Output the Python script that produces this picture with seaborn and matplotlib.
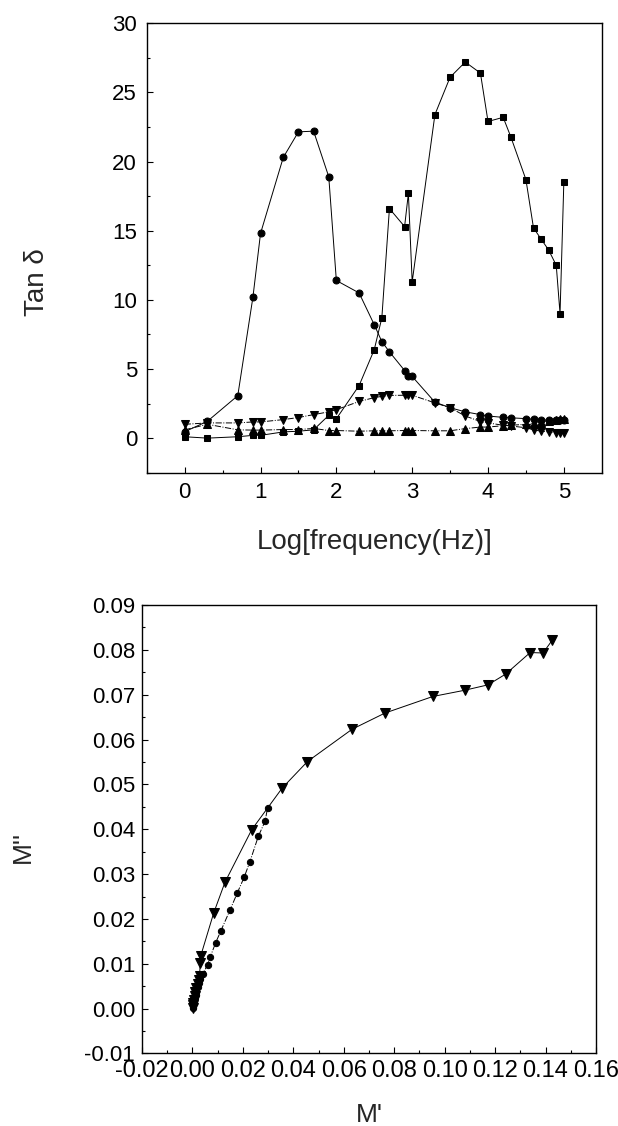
import matplotlib
matplotlib.use('Agg')
import matplotlib.pyplot as plt
from matplotlib.ticker import MultipleLocator, FormatStrFormatter
import seaborn as sns

sns.set_style('ticks')
plt.rcParams['font.family'] = ['Liberation Sans', 'DejaVu Sans']
plt.rcParams['axes.unicode_minus'] = False

# tan delta vs log frequency
log_f = [0, 0.3, 0.7, 0.9, 1.0, 1.3, 1.5, 1.7, 1.9, 2.0, 2.3, 2.5, 2.6, 2.7, 2.9, 2.95,
         3.0, 3.3, 3.5, 3.7, 3.9, 4.0, 4.2, 4.3, 4.5, 4.6, 4.7, 4.8, 4.9, 4.95, 5.0]
tan_square = [0.1, 0.0, 0.1, 0.2, 0.2, 0.45, 0.5, 0.6, 1.65, 1.4, 3.8, 6.4, 8.7, 16.6, 15.3, 17.7,
              11.3, 23.4, 26.1, 27.2, 26.4, 22.9, 23.2, 21.8, 18.7, 15.2, 14.4, 13.6, 12.5, 9.0, 18.5]
tan_circle = [0.46, 1.22, 3.07, 10.2, 14.8, 20.3, 22.15, 22.2, 18.9, 11.4, 10.5, 8.2, 6.98, 6.24, 4.89, 4.46,
              4.46, 2.6, 2.2, 1.9, 1.7, 1.6, 1.5, 1.47, 1.41, 1.36, 1.33, 1.3, 1.3, 1.3, 1.3]
tan_down = [1.0, 1.1, 1.1, 1.17, 1.17, 1.34, 1.49, 1.7, 1.9, 2.06, 2.65, 2.93, 3.02, 3.09, 3.1, 3.15,
            3.1, 2.55, 2.2, 1.6, 1.2, 1.1, 0.93, 0.88, 0.75, 0.6, 0.5, 0.45, 0.4, 0.38, 0.38]
tan_up = [0.6, 1.0, 0.6, 0.58, 0.58, 0.62, 0.62, 0.7, 0.55, 0.55, 0.5, 0.53, 0.53, 0.53, 0.55, 0.55,
          0.55, 0.53, 0.53, 0.69, 0.8, 0.8, 0.9, 0.93, 1.0, 1.1, 1.2, 1.25, 1.3, 1.35, 1.4]

# modulus plane M'' vs M'
m1_down = [0.0001, 0.0002, 0.0004, 0.0006, 0.0009, 0.0012, 0.0016, 0.0020, 0.0024, 0.0028,
           0.0031, 0.0033, 0.0084, 0.0129, 0.0235, 0.0356, 0.0456, 0.0633, 0.0763,
           0.0953, 0.1080, 0.1172, 0.1242, 0.1339, 0.1390, 0.1427]
m2_down = [0.0002, 0.0007, 0.0013, 0.0020, 0.0028, 0.0037, 0.0046, 0.0055, 0.0063, 0.0072,
           0.0102, 0.0118, 0.0213, 0.0282, 0.0399, 0.0492, 0.0551, 0.0623, 0.0659,
           0.0696, 0.0710, 0.0722, 0.0746, 0.0794, 0.0793, 0.0822]
m1_circle = [0.0002, 0.0004, 0.0007, 0.0010, 0.0013, 0.0016, 0.0020, 0.0025, 0.0030,
             0.0041, 0.0060, 0.0071, 0.0092, 0.0113, 0.0149, 0.0177, 0.0205, 0.0228,
             0.0261, 0.0288, 0.0298]
m2_circle = [0.0001, 0.0008, 0.0015, 0.0023, 0.0031, 0.0040, 0.0049, 0.0058, 0.0067,
             0.0077, 0.0098, 0.0116, 0.0147, 0.0174, 0.0220, 0.0257, 0.0293, 0.0328,
             0.0384, 0.0418, 0.0448]

fig = plt.figure(figsize=(6.18, 11.26), dpi=100)
ax1 = fig.add_axes([0.2375, 0.5802, 0.7362, 0.3991])
ax2 = fig.add_axes([0.2298, 0.0644, 0.7346, 0.3983])

kw = dict(color='black', estimator=None, sort=False, linewidth=0.7,
          markeredgecolor='black', markerfacecolor='black')
sns.lineplot(x=log_f, y=tan_square, ax=ax1, marker='s', markersize=4.5, **kw)
sns.lineplot(x=log_f, y=tan_circle, ax=ax1, marker='o', markersize=5, **kw)
sns.lineplot(x=log_f, y=tan_down, ax=ax1, marker='v', markersize=6, linestyle='-.', **kw)
sns.lineplot(x=log_f, y=tan_up, ax=ax1, marker='^', markersize=6, linestyle='-.', **kw)

sns.lineplot(x=m1_down, y=m2_down, ax=ax2, marker='v', markersize=6.5, **kw)
sns.lineplot(x=m1_circle, y=m2_circle, ax=ax2, marker='o', markersize=4.5, linestyle='-.', **kw)

ax1.set_xlim(-0.5, 5.5)
ax1.set_ylim(-2.5, 30)
ax1.xaxis.set_major_locator(MultipleLocator(1))
ax1.xaxis.set_minor_locator(MultipleLocator(0.5))
ax1.yaxis.set_major_locator(MultipleLocator(5))
ax1.yaxis.set_minor_locator(MultipleLocator(2.5))
ax1.set_xlabel('Log[frequency(Hz)]', fontsize=20)
ax1.set_ylabel('Tan δ', fontsize=20)
ax1.xaxis.set_label_coords(0.5, -0.125)
ax1.yaxis.set_label_coords(-0.213, 0.424)

ax2.set_xlim(-0.02, 0.16)
ax2.set_ylim(-0.01, 0.09)
ax2.xaxis.set_major_locator(MultipleLocator(0.02))
ax2.xaxis.set_minor_locator(MultipleLocator(0.01))
ax2.yaxis.set_major_locator(MultipleLocator(0.01))
ax2.yaxis.set_minor_locator(MultipleLocator(0.005))
ax2.xaxis.set_major_formatter(FormatStrFormatter('%.2f'))
ax2.yaxis.set_major_formatter(FormatStrFormatter('%.2f'))
ax2.set_xlabel("M'", fontsize=19)
ax2.set_ylabel("M''", fontsize=19)
ax2.xaxis.set_label_coords(0.5, -0.11)
ax2.yaxis.set_label_coords(-0.236, 0.46)

for ax, pad in ((ax1, 7), (ax2, 5)):
    for s in ax.spines.values():
        s.set_visible(True)
        s.set_color('black')
        s.set_linewidth(1.0)
    ax.tick_params(which='both', direction='in', top=False, right=False, colors='black', width=0.8)
    ax.tick_params(which='major', length=4.5, labelsize=16, pad=pad)
    ax.tick_params(which='minor', length=2.5)
ax2.tick_params(axis='x', which='major', labelsize=17)

fig.savefig('out.png', dpi=100, facecolor='white')
